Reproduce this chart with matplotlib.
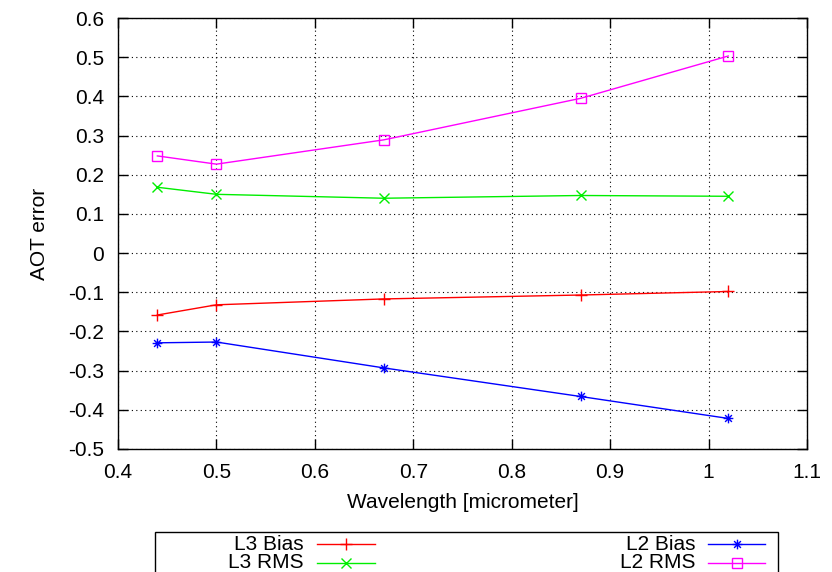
import numpy as np
import matplotlib
matplotlib.use('Agg')
import matplotlib.pyplot as plt
from matplotlib.path import Path
from matplotlib.lines import Line2D
from matplotlib.patches import Rectangle

# data
wavelength = [0.44, 0.5, 0.67, 0.87, 1.02]
l3_bias = [-0.158, -0.132, -0.117, -0.107, -0.098]
l3_rms = [0.168, 0.150, 0.140, 0.147, 0.145]
l2_bias = [-0.229, -0.227, -0.293, -0.366, -0.422]
l2_rms = [0.248, 0.227, 0.289, 0.395, 0.503]
xticks = [0.4, 0.5, 0.6, 0.7, 0.8, 0.9, 1.0, 1.1]
xticklabels = ['0.4', '0.5', '0.6', '0.7', '0.8', '0.9', '1', '1.1']
yticks = [-0.5, -0.4, -0.3, -0.2, -0.1, 0, 0.1, 0.2, 0.3, 0.4, 0.5, 0.6]
yticklabels = ['-0.5', '-0.4', '-0.3', '-0.2', '-0.1', '0', '0.1', '0.2', '0.3', '0.4', '0.5', '0.6']

plt.rcParams['font.family'] = ['Liberation Sans', 'DejaVu Sans']
plt.rcParams['font.size'] = 15

# gnuplot style asterisk (plus + cross)
M, L = Path.MOVETO, Path.LINETO
star = Path([(-1, 0), (1, 0), (0, -1), (0, 1), (-.7, -.7), (.7, .7), (-.7, .7), (.7, -.7)],
            [M, L, M, L, M, L, M, L])

W, H = 832, 572
fig = plt.figure(figsize=(8.32, 5.72), dpi=100)
ax = fig.add_axes([118 / W, 1 - 449 / H, (807 - 118) / W, (449 - 18) / H])

styles = [
    ('L3 Bias', l3_bias, dict(color='#ff0000', marker='+', ms=9)),
    ('L3 RMS', l3_rms, dict(color='#00ee00', marker='x', ms=7)),
    ('L2 Bias', l2_bias, dict(color='#0000ff', marker=star, ms=7)),
    ('L2 RMS', l2_rms, dict(color='#ff00ff', marker='s', ms=7, mfc='none')),
]
for name, vals, st in styles:
    ax.plot(wavelength, vals, lw=1, mew=1, label=name, **st)

ax.set_xlim(0.4, 1.1)
ax.set_ylim(-0.5, 0.6)
ax.set_xticks(xticks)
ax.set_xticklabels(xticklabels)
ax.set_yticks(yticks)
ax.set_yticklabels(yticklabels)
ax.tick_params(direction='in', top=True, right=True, length=7, width=1, labelsize=15, pad=10)
ax.grid(True, color='black', linestyle=(0, (1, 3)), linewidth=0.8)
for s in ax.spines.values():
    s.set_linewidth(1)
ax.set_xlabel('Wavelength [micrometer]', fontsize=15, labelpad=8)
ax.set_ylabel('AOT error', fontsize=15, labelpad=14)

# gnuplot style key below the plot: text right aligned, sample to the right
fig.add_artist(Rectangle((155 / W, -0.05), (778 - 155) / W, 0.05 + 1 - 532 / H,
                         transform=fig.transFigure, fill=False, edgecolor='black', lw=1))
key_pos = [(304, 317, 375, 544), (304, 317, 375, 563), (696, 708, 765, 544), (696, 708, 765, 563)]
for (name, vals, st), (tx, lx0, lx1, ly) in zip(styles, key_pos):
    fig.text(tx / W, 1 - ly / H, name, ha='right', va='center', fontsize=15)
    fig.add_artist(Line2D([lx0 / W, (lx0 + lx1) / 2 / W, lx1 / W], [1 - ly / H] * 3,
                          transform=fig.transFigure, lw=1, mew=1, markevery=[1], **st))

fig.savefig('out.png', dpi=100)
